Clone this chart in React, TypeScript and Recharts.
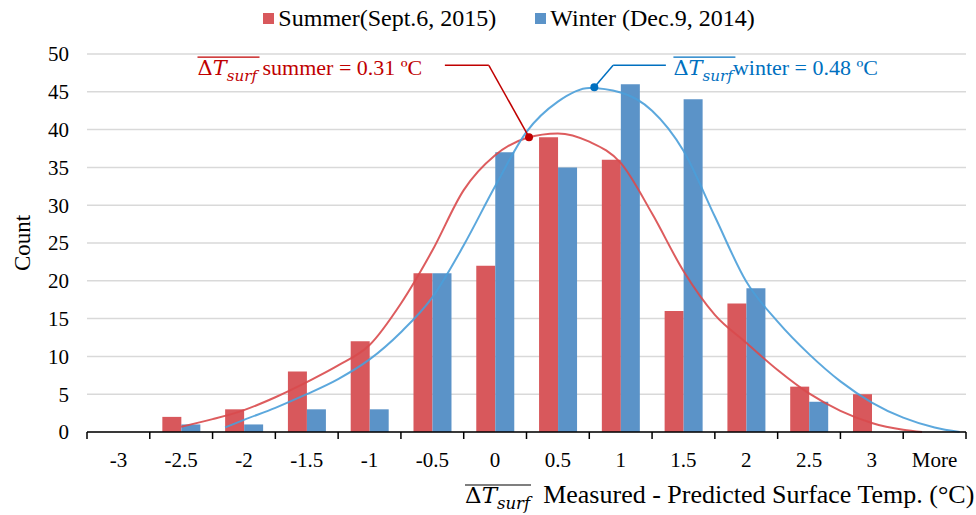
import { ComposedChart, Bar, Line, XAxis, YAxis, CartesianGrid, Legend, ReferenceDot, ReferenceLine, Label } from 'recharts';

const categories = ['-3', '-2.5', '-2', '-1.5', '-1', '-0.5', '0', '0.5', '1', '1.5', '2', '2.5', '3', 'More'];
const summerCounts = [0, 2, 3, 8, 12, 21, 22, 39, 36, 16, 17, 6, 5, 0];
const winterCounts = [0, 1, 1, 3, 3, 21, 37, 35, 46, 44, 19, 4, 0, 0];

// fitted normal curves (x in °C)
const summerFitX = [-2.5, -2.25, -2, -1.75, -1.5, -1.25, -1, -0.75, -0.5, -0.25, 0, 0.25, 0.5, 0.75, 1, 1.25, 1.5, 1.75, 2, 2.25, 2.5, 2.75, 3, 3.25, 3.4];
const summerFitY = [0.7, 1.7, 2.9, 4.6, 6.6, 8.8, 11.5, 17.0, 24.0, 32.0, 36.6, 38.9, 39.5, 38.4, 35.6, 28.9, 21.3, 15.5, 11.8, 8.2, 5.1, 2.8, 1.2, 0.3, 0];
const winterFitX = [-2.15, -2, -1.75, -1.5, -1.25, -1, -0.75, -0.5, -0.25, 0, 0.25, 0.5, 0.75, 1, 1.25, 1.5, 1.75, 2, 2.25, 2.5, 2.75, 3, 3.25, 3.5, 3.7];
const winterFitY = [0.6, 1.6, 3.2, 5.0, 7.0, 9.6, 13.2, 17.8, 24.7, 32.5, 39.7, 43.7, 45.5, 44.9, 42.5, 37.2, 28.5, 19.9, 14.6, 10.3, 6.7, 3.9, 1.9, 0.6, 0];

const yTicks = [0, 5, 10, 15, 20, 25, 30, 35, 40, 45, 50];

const data = categories.map((c, i) => ({ cat: c, summer: summerCounts[i], winter: winterCounts[i] }));
const summerFit = summerFitX.map((x, i) => ({ x, y: summerFitY[i] }));
const winterFit = winterFitX.map((x, i) => ({ x, y: winterFitY[i] }));

const RED_BAR = '#D8585C';
const BLUE_BAR = '#5B93C8';
const RED_LINE = '#D94A4C';
const BLUE_LINE = '#4A9FD9';
const RED_TXT = '#C00000';
const BLUE_TXT = '#0070C0';
const SERIF = '"Liberation Serif", "Times New Roman", serif';

function MathText({ x, y, color, rest, fs = 22, mfs = 21, bar = 62 }: { x: number; y: number; color: string; rest: string; fs?: number; mfs?: number; bar?: number }) {
  return (
    <g>
      <line x1={x} x2={x + bar} y1={y - 18} y2={y - 18} stroke={color} strokeWidth={1.2} />
      <text x={x} y={y} fill={color} fontFamily={SERIF} fontSize={fs}>
        <tspan fontFamily="DejaVu Serif" fontSize={mfs}>Δ</tspan>
        <tspan fontFamily="DejaVu Serif" fontStyle="italic" fontSize={mfs}>T</tspan>
        <tspan fontFamily="DejaVu Serif" fontStyle="italic" fontSize={mfs * 0.72} dy={mfs * 0.28}>surf</tspan>
        <tspan dy={-mfs * 0.28}>{rest}</tspan>
      </text>
    </g>
  );
}

// category label, with Excel-style tick marks on the bin edges
function BinTick(props: any) {
  const { x, y, payload, index, visibleTicksCount } = props;
  const half = payload.offset;
  const axisY = y - 20;
  const last = index === visibleTicksCount - 1;
  return (
    <g>
      <line x1={x - half} x2={x - half} y1={axisY} y2={axisY + 7} stroke="#000" strokeWidth={1.5} />
      {last && <line x1={x + half} x2={x + half} y1={axisY} y2={axisY + 7} stroke="#000" strokeWidth={1.5} />}
      <text x={x} y={y} dy="0.71em" textAnchor="middle" fontFamily={SERIF} fontSize={21} fill="#000">
        {payload.value}
      </text>
    </g>
  );
}

const renderLegend = (props: any) => (
  <div style={{ display: 'flex', justifyContent: 'center', gap: 39, fontFamily: SERIF, fontSize: 24, paddingLeft: 44, lineHeight: '28px' }}>
    {(props.payload || [])
      .filter((p: any) => p.dataKey === 'summer' || p.dataKey === 'winter')
      .map((p: any) => (
        <span key={p.value} style={{ display: 'flex', alignItems: 'center' }}>
          <span style={{ width: 11, height: 11, background: p.color, marginRight: 4, display: 'inline-block' }} />
          {p.value}
        </span>
      ))}
  </div>
);

export default function App() {
  return (
    <div style={{ width: 976, height: 515, background: '#fff' }}>
      <style>{'body{margin:0}'}</style>
      <ComposedChart width={976} height={515} data={data} margin={{ top: 24, right: 10, left: 8, bottom: 0 }} barCategoryGap="20%" barGap={0}>
        <CartesianGrid vertical={false} stroke="#D9D9D9" strokeWidth={1.5} xAxisId="cat" />
        <XAxis xAxisId="num" type="number" dataKey="x" domain={[-3.25, 3.75]} allowDataOverflow hide />
        <XAxis
          xAxisId="cat"
          dataKey="cat"
          interval={0}
          axisLine={{ stroke: '#000', strokeWidth: 1.5 }}
          tickLine={false}
          tickSize={0}
          tickMargin={20}
          height={83}
          tick={<BinTick />}
        >
          <Label
            content={(p: any) => (
              <MathText x={p.viewBox.x + 378} y={p.viewBox.y + 71} color="#000" rest={'\u00A0\u00A0Measured - Predicted Surface Temp. (°C)'} fs={26} mfs={23} bar={66} />
            )}
          />
        </XAxis>
        <YAxis
          domain={[0, 50]}
          ticks={yTicks}
          axisLine={false}
          tickLine={false}
          tickSize={0}
          tickMargin={18}
          width={79}
          tick={{ fontFamily: SERIF, fontSize: 21, fill: '#000' }}
        >
          <Label
            content={(p: any) => {
              const cx = p.viewBox.x + 14;
              const cy = p.viewBox.y + p.viewBox.height / 2;
              return (
                <text x={cx} y={cy} transform={`rotate(-90 ${cx} ${cy})`} textAnchor="middle" dominantBaseline="central" fontFamily={SERIF} fontSize={23} fill="#000">
                  Count
                </text>
              );
            }}
          />
        </YAxis>
        <Legend verticalAlign="top" height={30} wrapperStyle={{ top: 4 }} content={renderLegend} />
        <Bar xAxisId="cat" dataKey="summer" name="Summer(Sept.6, 2015)" fill={RED_BAR} isAnimationActive={false} />
        <Bar xAxisId="cat" dataKey="winter" name="Winter (Dec.9, 2014)" fill={BLUE_BAR} isAnimationActive={false} />
        <Line xAxisId="num" data={summerFit} dataKey="y" type="monotone" stroke={RED_LINE} strokeWidth={2} strokeOpacity={0.9} dot={false} activeDot={false} legendType="none" isAnimationActive={false} />
        <Line xAxisId="num" data={winterFit} dataKey="y" type="monotone" stroke={BLUE_LINE} strokeWidth={2} strokeOpacity={0.9} dot={false} activeDot={false} legendType="none" isAnimationActive={false} />

        <ReferenceLine xAxisId="num" segment={[{ x: 0.27, y: 39.0 }, { x: -0.05, y: 48.5 }]} stroke={RED_TXT} strokeWidth={1.5} ifOverflow="visible" />
        <ReferenceLine xAxisId="num" segment={[{ x: -0.05, y: 48.5 }, { x: -0.4, y: 48.5 }]} stroke={RED_TXT} strokeWidth={1.5} ifOverflow="visible" />
        <ReferenceDot xAxisId="num" x={0.27} y={39.0} r={4} fill={RED_TXT} stroke="none" ifOverflow="visible" />
        <ReferenceDot xAxisId="num" x={-2.37} y={47.2} r={0} ifOverflow="visible" shape={(p: any) => <MathText x={p.cx} y={p.cy} color={RED_TXT} rest=" summer = 0.31 ºC" />} />

        <ReferenceLine xAxisId="num" segment={[{ x: 0.79, y: 45.6 }, { x: 0.94, y: 48.5 }]} stroke={BLUE_TXT} strokeWidth={1.5} ifOverflow="visible" />
        <ReferenceLine xAxisId="num" segment={[{ x: 0.94, y: 48.5 }, { x: 1.36, y: 48.5 }]} stroke={BLUE_TXT} strokeWidth={1.5} ifOverflow="visible" />
        <ReferenceDot xAxisId="num" x={0.79} y={45.6} r={4} fill={BLUE_TXT} stroke="none" ifOverflow="visible" />
        <ReferenceDot xAxisId="num" x={1.42} y={47.2} r={0} ifOverflow="visible" shape={(p: any) => <MathText x={p.cx} y={p.cy} color={BLUE_TXT} rest="winter = 0.48 ºC" />} />
      </ComposedChart>
    </div>
  );
}
